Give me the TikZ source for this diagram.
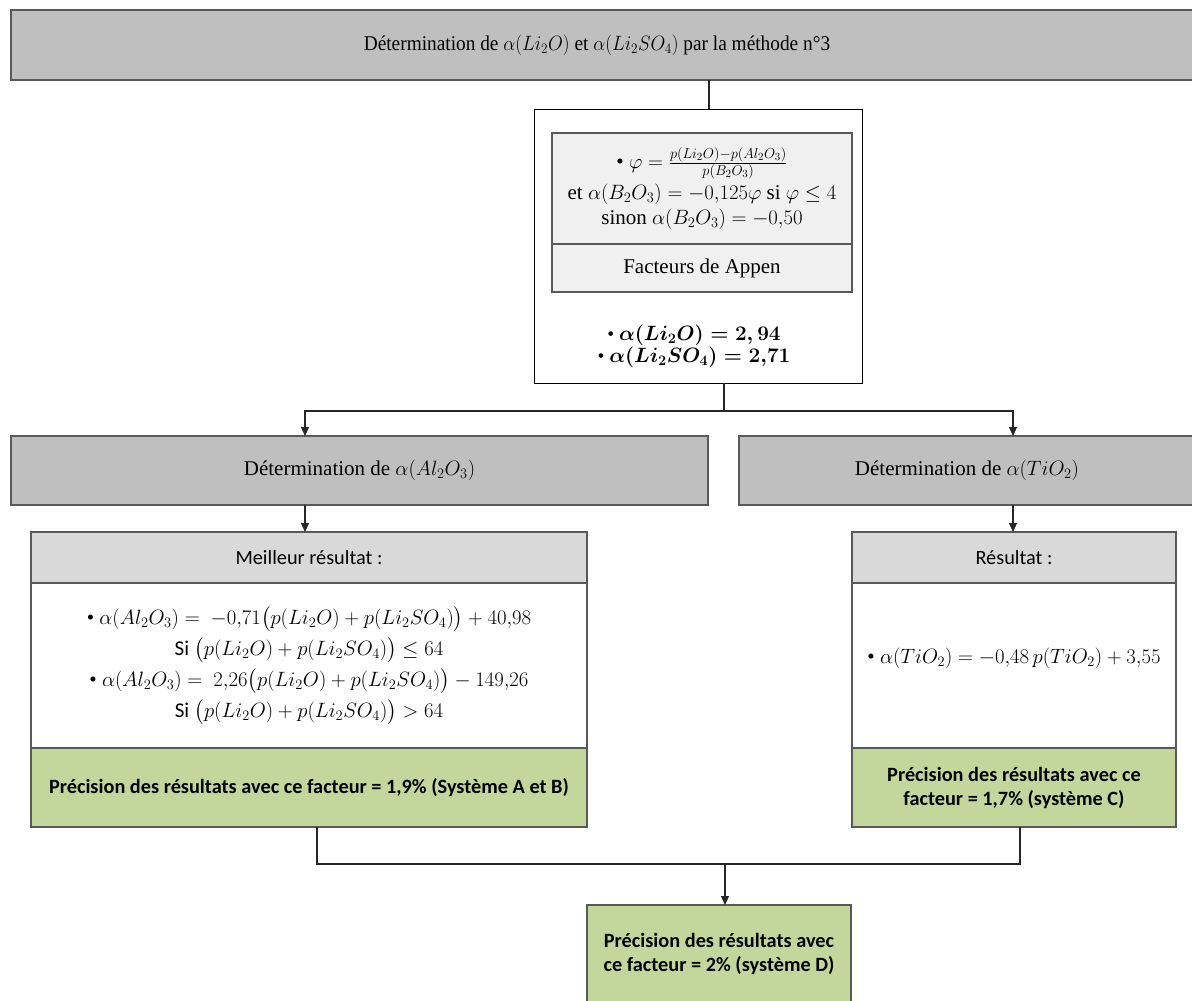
\documentclass[tikz,border=0pt]{standalone}
\usepackage{amsmath}
\usepackage{graphicx}
\usepackage{fontspec}
\setmainfont{Liberation Serif}
\newfontfamily\calibri{Carlito}
\usetikzlibrary{positioning, arrows.meta}
\definecolor{edge}{HTML}{595959}
\definecolor{stageG}{HTML}{BFBFBF}
\definecolor{headG}{HTML}{D9D9D9}
\definecolor{innerG}{HTML}{F0F0F0}
\definecolor{verdictG}{HTML}{C3D69B}
\newcommand{\serifT}{\fontsize{21}{25}\selectfont}
\newcommand{\sansT}{\calibri\fontsize{20.3}{24}\selectfont}
\tikzset{
  box/.style     ={draw=edge, line width=1.6pt, inner sep=0pt, outer sep=0pt,
                   align=center},
  stage/.style   ={box, fill=stageG, font=\serifT, minimum height=69pt},
  shell/.style   ={draw=black, line width=1pt, fill=white, outer sep=0pt},
  inner/.style   ={box, line width=1.3pt, fill=innerG, font=\serifT,
                   minimum width=300pt},
  head/.style    ={box, fill=headG, font=\sansT, minimum height=51pt},
  body/.style    ={box, fill=white, font=\serifT, minimum height=165pt},
  verdict/.style ={box, fill=verdictG, font=\sansT\bfseries},
  link/.style    ={-, black!85, line width=1.2pt},
  flow/.style    ={link, -{Triangle[length=9pt, width=8pt]}},
}

\begin{document}
\begin{tikzpicture}[x=1pt, y=-1pt]
\useasboundingbox (0,0) rectangle (1192,1001);
\clip (0,0) rectangle (1192,1001);

% Title row
\node[stage, minimum width=1184pt, minimum height=70pt] (top) at (603,45)
  {\hspace*{-12pt}\scalebox{0.92}[1]{Détermination de $\alpha(Li_2O)$ et $\alpha(Li_2SO_4)$ par la méthode n°3}};

% Appen factors
\node[shell, minimum width=328pt, minimum height=274pt] (mid) at (698,246) {};
\node[inner, minimum height=111pt] (phi) at (702,188.5)
  {• $\varphi = \frac{p(Li_2O)-p(Al_2O_3)}{p(B_2O_3)}$\\[4pt]
   et $\alpha(B_2O_3) = -0{,}125\varphi$ si $\varphi \leq 4$\\
   sinon $\alpha(B_2O_3) = -0{,}50$};
\node[inner, minimum height=48pt, below=0pt of phi] (appen) {Facteurs de Appen};
\node[font=\fontsize{19.5}{22}\selectfont\boldmath, align=center, inner sep=0pt] (li)
  at (694,346)
  {• $\alpha(Li_2O) = 2,94$\\ • $\alpha(Li_2SO_4) = 2{,}71$};

% Second level
\node[stage, minimum width=697pt] (detL) at (359.5,470.5)
  {Détermination de $\alpha(Al_2O_3)$};
\node[stage, minimum width=456pt] (detR) at (967,470.5)
  {Détermination de $\alpha(TiO_2)$};

% Result panels
\node[head, minimum width=556pt] (headL) at (309,557.5) {Meilleur résultat :};
\node[body, minimum width=556pt, below=0pt of headL,
      font=\fontsize{21}{31}\selectfont] (bodyL)
  {• $\alpha(Al_2O_3) = \ -0{,}71\bigl(p(Li_2O) + p(Li_2SO_4)\bigr) + 40{,}98$\\
   {\calibri Si} $\bigl(p(Li_2O) + p(Li_2SO_4)\bigr) \leq 64$\\
   • $\alpha(Al_2O_3) = \ 2{,}26\bigl(p(Li_2O) + p(Li_2SO_4)\bigr) - 149{,}26$\\
   {\calibri Si} $\bigl(p(Li_2O) + p(Li_2SO_4)\bigr) > 64$};
\node[verdict, minimum width=556pt, minimum height=79pt, below=0pt of bodyL] (footL)
  {Précision des résultats avec ce facteur = 1,9\% (Système A et B)};

\node[head, minimum width=324pt] (headR) at (1014,557.5) {Résultat :};
\node[body, minimum width=324pt, below=0pt of headR] (bodyR)
  {• $\alpha(TiO_2) = -0{,}48\,p(TiO_2) + 3{,}55$\\[-5pt]};
\node[verdict, minimum width=324pt, minimum height=79pt, below=0pt of bodyR] (footR)
  {Précision des résultats avec ce\\ facteur = 1,7\% (système C)};

% Overall result
\node[verdict, minimum width=264pt, minimum height=98pt] (fin) at (719,954)
  {Précision des résultats avec\\ ce facteur = 2\% (système D)};

% Connectors
\coordinate (inMid) at (709,109);
\coordinate (fork)  at (724,411);
\coordinate (colL)  at (305,0);
\coordinate (colR)  at (1013,0);
\coordinate (outL)  at (317,0);
\coordinate (outR)  at (1020,0);
\coordinate (merge) at (725,864);
\draw[link] (top.south -| inMid) -- (inMid);
\draw[link] (mid.south -| fork) -- (fork);
\draw[flow] (fork) -| (detL.north -| colL);
\draw[flow] (fork) -| (detR.north -| colR);
\draw[flow] (detL.south -| colL) -- (headL.north -| colL);
\draw[flow] (detR.south -| colR) -- (headR.north -| colR);
\draw[link] (footL.south -| outL) |- (merge);
\draw[link] (footR.south -| outR) |- (merge);
\draw[flow] (merge) -- (fin.north -| merge);

\end{tikzpicture}
\end{document}
